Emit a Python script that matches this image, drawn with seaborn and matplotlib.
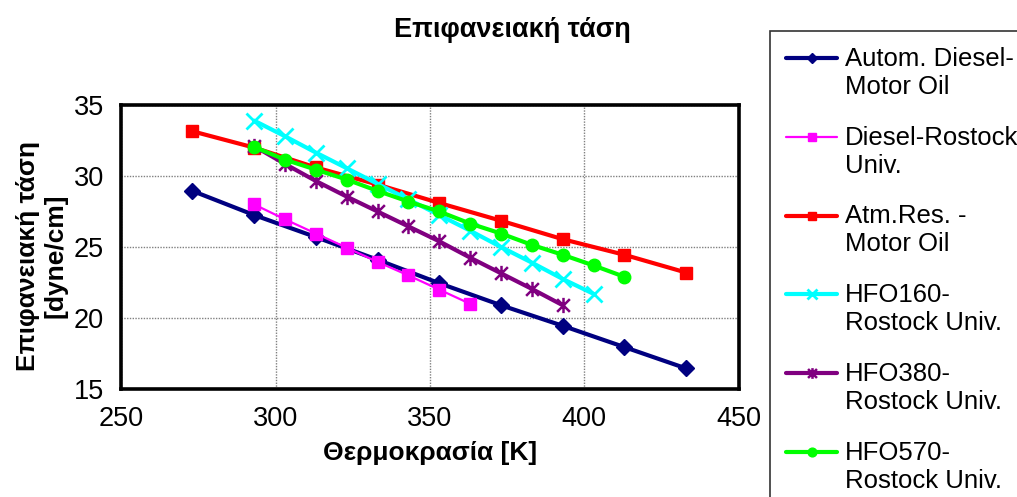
import numpy as np
import pandas as pd
import matplotlib
matplotlib.use("Agg")
import matplotlib.pyplot as plt
import seaborn as sns
from matplotlib.path import Path
from matplotlib.lines import Line2D
from matplotlib.legend_handler import HandlerLine2D

# ---------------- data ----------------
series_names = ["Autom. Diesel-\nMotor Oil", "Diesel-Rostock\nUniv.", "Atm.Res. -\nMotor Oil",
                "HFO160-\nRostock Univ.", "HFO380-\nRostock Univ.", "HFO570-\nRostock Univ."]

x_autom = [273, 293, 313, 333, 353, 373, 393, 413, 433]
y_autom = [28.95, 27.25, 25.7, 24.1, 22.45, 20.9, 19.45, 17.95, 16.45]

x_diesel = [293, 303, 313, 323, 333, 343, 353, 363]
y_diesel = [28.0, 26.95, 25.95, 24.95, 23.95, 23.0, 22.0, 21.0]

x_atm = [273, 293, 313, 333, 353, 373, 393, 413, 433]
y_atm = [33.15, 32.0, 30.6, 29.4, 28.1, 26.85, 25.55, 24.45, 23.2]

x_hfo160 = [293, 303, 313, 323, 333, 343, 353, 363, 373, 383, 393, 403]
y_hfo160 = [33.9, 32.8, 31.65, 30.55, 29.45, 28.35, 27.25, 26.15, 25.0, 23.9, 22.75, 21.7]

x_hfo380 = [293, 303, 313, 323, 333, 343, 353, 363, 373, 383, 393]
y_hfo380 = [32.1, 30.85, 29.65, 28.55, 27.5, 26.45, 25.4, 24.25, 23.15, 22.05, 20.9]

x_hfo570 = [293, 303, 313, 323, 333, 343, 353, 363, 373, 383, 393, 403, 413]
y_hfo570 = [32.05, 31.15, 30.45, 29.75, 28.95, 28.2, 27.5, 26.65, 25.95, 25.15, 24.45, 23.7, 22.9]

x_ticks = [250, 300, 350, 400, 450]
y_ticks = [15, 20, 25, 30, 35]

title = "Επιφανειακή τάση"
xlabel = "Θερμοκρασία [K]"
ylabel = "Επιφανειακή τάση\n[dyne/cm]"

# ---------------- style ----------------
sns.set_style("white")
plt.rcParams['font.family'] = ['Liberation Sans', 'DejaVu Sans']
plt.rcParams['text.color'] = 'black'
plt.rcParams['axes.labelcolor'] = 'black'
plt.rcParams['xtick.color'] = 'black'
plt.rcParams['ytick.color'] = 'black'

asterisk = Path([(-1, -1), (1, 1), (-1, 1), (1, -1), (0, -1.2), (0, 1.2)],
                [Path.MOVETO, Path.LINETO, Path.MOVETO, Path.LINETO, Path.MOVETO, Path.LINETO])

styles = [
    dict(color="#000080", marker="D", markersize=8, linewidth=3.0, mew=1),
    dict(color="#FF00FF", marker="s", markersize=8.5, linewidth=1.6, mew=1),
    dict(color="#FF0000", marker="s", markersize=8.5, linewidth=3.0, mew=1),
    dict(color="#00FFFF", marker="x", markersize=11, linewidth=3.0, mew=2),
    dict(color="#800080", marker=asterisk, markersize=11, linewidth=3.0, mew=1.8),
    dict(color="#00FF00", marker="o", markersize=9, linewidth=3.0, mew=1),
]

xs = [x_autom, x_diesel, x_atm, x_hfo160, x_hfo380, x_hfo570]
ys = [y_autom, y_diesel, y_atm, y_hfo160, y_hfo380, y_hfo570]

fig = plt.figure(figsize=(10.17, 4.97), dpi=100)
ax = fig.add_axes([121.4 / 1017, 1 - 389 / 497, 617.2 / 1017, 284 / 497])

for name, x, y, st in zip(series_names, xs, ys, styles):
    df = pd.DataFrame({"x": x, "y": y})
    sns.lineplot(data=df, x="x", y="y", ax=ax, color=st["color"], marker=st["marker"],
                 markersize=st["markersize"], linewidth=st["linewidth"],
                 markeredgewidth=st["mew"], markeredgecolor=st["color"],
                 label=name, sort=False, estimator=None)

ax.set_xlim(250, 450)
ax.set_ylim(15, 35)
ax.set_xticks(x_ticks)
ax.set_yticks(y_ticks)
ax.tick_params(axis='both', direction='inout', length=9, width=1.2, labelsize=19.5,
               colors='black', pad=8)
ax.grid(True, color='#808080', linestyle=(0, (1, 1)), linewidth=1.0)
for sp in ax.spines.values():
    sp.set_visible(True)
    sp.set_color('black')
    sp.set_linewidth(2.6)

ax.set_xlabel(xlabel, fontsize=19, fontweight='bold', labelpad=6, color='black')
ax.set_ylabel(ylabel, fontsize=19, fontweight='bold', linespacing=1.15, color='black')
ax.yaxis.set_label_coords(-0.088, 0.47)

fig.text(512 / 1017, 1 - 30 / 497, title, fontsize=19.5, fontweight='bold',
         ha='center', va='center', color='black')


class TopHandler(HandlerLine2D):
    def __init__(self, dy, **kw):
        super().__init__(**kw)
        self.dy = dy

    def create_artists(self, legend, orig_handle, xdescent, ydescent, width, height, fontsize, trans):
        return super().create_artists(legend, orig_handle, xdescent, ydescent - 2 * self.dy,
                                      width, height, fontsize, trans)


handles, labels = ax.get_legend_handles_labels()
if ax.get_legend():
    ax.get_legend().remove()
leg = fig.legend(handles, labels, loc='upper left', bbox_to_anchor=(770 / 1017, 1 - 31 / 497),
                 bbox_transform=fig.transFigure, fontsize=18.5, frameon=True, fancybox=False,
                 edgecolor='black', borderpad=0.62, borderaxespad=0, handlelength=2.0,
                 handletextpad=0.28, labelspacing=1.05, markerscale=0.7,
                 handler_map={Line2D: TopHandler(11.0)})
leg.get_frame().set_linewidth(1.2)
for t in leg.get_texts():
    t.set_linespacing(1.2)
    t.set_color('black')

fig.savefig("out.png", dpi=100)
